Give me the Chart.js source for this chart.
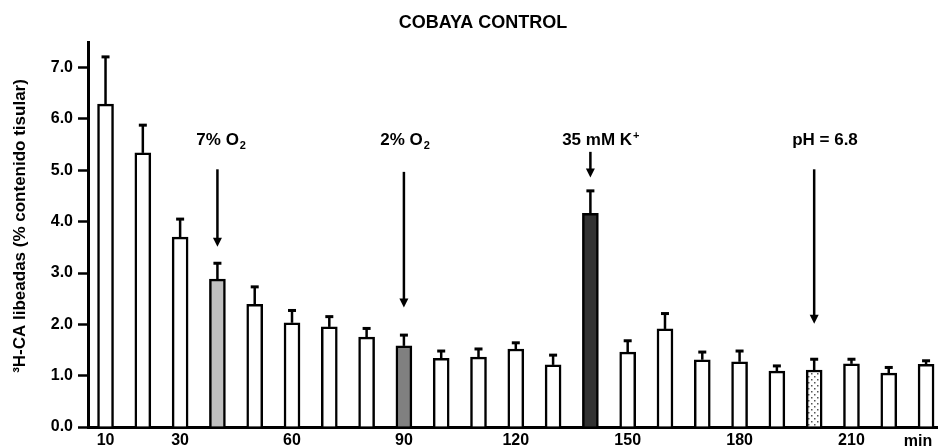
<!DOCTYPE html>
<html><head><meta charset="utf-8">
<script src="https://cdn.jsdelivr.net/npm/chart.js@4"></script>
<style>html,body{margin:0;padding:0;background:#fff;overflow:hidden}#wrap{width:938px;height:447px;position:relative}</style>
</head><body><div id="wrap"><canvas id="c" width="938" height="447"></canvas></div>
<script>
// ---- data ----
const chartTitle = 'COBAYA CONTROL';
const yAxisTitle = '\u00B3H-CA libeadas (% contenido tisular)';
const times  = [10,20,30,40,50,60,70,80,90,100,110,120,130,140,150,160,170,180,190,200,210,220,230];
const values = [6.29,5.34,3.70,2.88,2.39,2.03,1.95,1.75,1.58,1.34,1.36,1.52,1.21,4.16,1.46,1.91,1.31,1.27,1.09,1.11,1.23,1.05,1.22];
const errors = [0.92,0.54,0.35,0.31,0.34,0.24,0.20,0.17,0.21,0.14,0.16,0.12,0.19,0.44,0.22,0.30,0.15,0.21,0.10,0.21,0.09,0.11,0.07];
const yTickValues = [0,1,2,3,4,5,6,7];
const xTickValues = [10,30,60,90,120,150,180,210];
const xUnitLabel = 'min';
// annotations (stimuli)
const annotMain   = ['7% O','2% O','35 mM K','pH = 6.8'];
const annotScript = ['2','2','+',''];
const annotKind   = ['sub','sub','sup',''];
const annotTime   = [40,90,140,200];      // bar the arrow points at
const annotTextTime = [41,90.3,142.8,202.9];
const annotFrom   = [5.02,4.97,5.36,5.02]; // arrow start (y units)
const annotTo     = [3.51,2.33,4.86,2.01]; // arrow tip (y units)
const annotTextLevel = 5.49;
// bar fill styles: 'w' white, 'l' light grey, 'm' mid grey, 'd' dark, 'p' dotted
const barStyle = ['w','w','w','l','w','w','w','w','m','w','w','w','w','d','w','w','w','w','w','p','w','w','w'];

// ---- drawing ----
const FAM = "'Liberation Sans', Arial, Helvetica, sans-serif";
const canvas = document.getElementById('c');
const ctx = canvas.getContext('2d');
function dotPattern(){
  const c=document.createElement('canvas'); c.width=6; c.height=6;
  const g=c.getContext('2d'); g.fillStyle='#fff'; g.fillRect(0,0,6,6);
  g.fillStyle='#555'; g.fillRect(1,1,1.5,1.5); g.fillRect(4,4,1.5,1.5);
  return ctx.createPattern(c,'repeat');
}
const styleMap = {w:'#ffffff', l:'#c0c0c0', m:'#808080', d:'#333333', p:dotPattern()};

function drawArrow(g, x, y1, y2){
  g.save(); g.strokeStyle='#000'; g.fillStyle='#000'; g.lineWidth=2.5;
  g.beginPath(); g.moveTo(x,y1); g.lineTo(x,y2-8); g.stroke();
  g.beginPath(); g.moveTo(x-4.5,y2-9); g.lineTo(x+4.5,y2-9); g.lineTo(x,y2); g.closePath(); g.fill();
  g.restore();
}
function drawScripted(g, cx, y, main, script, kind, size){
  g.save();
  const fMain = 'bold '+size+'px '+FAM, fS = 'bold '+Math.round(size*0.62)+'px '+FAM;
  g.font=fMain; const w1=g.measureText(main).width;
  g.font=fS; const w2=script?g.measureText(script).width+1:0;
  const x0 = cx-(w1+w2)/2;
  g.fillStyle='#000'; g.textBaseline='alphabetic'; g.textAlign='left';
  g.font=fMain; g.fillText(main,x0,y);
  if(script){ g.font=fS; g.fillText(script,x0+w1+1, kind==='sub'? y+4 : y-6); }
  g.restore();
}

const overlay = {
  id:'overlay',
  afterDatasetsDraw(chart){
    const g=chart.ctx, xs=chart.scales.x, ys=chart.scales.y;
    g.save();
    // error bars
    g.strokeStyle='#000'; g.fillStyle='#000'; g.lineWidth=2.5;
    times.forEach((t,i)=>{
      const x=xs.getPixelForValue(t), yb=ys.getPixelForValue(values[i]), ye=ys.getPixelForValue(values[i]+errors[i]);
      g.beginPath(); g.moveTo(x,yb); g.lineTo(x,ye); g.stroke();
      g.fillRect(x-4,ye-1.5,8,3);
    });
    // arrows + labels
    annotMain.forEach((m,i)=>{
      const x=xs.getPixelForValue(annotTime[i]);
      drawArrow(g,x,ys.getPixelForValue(annotFrom[i]),ys.getPixelForValue(annotTo[i]));
      drawScripted(g, xs.getPixelForValue(annotTextTime[i]), ys.getPixelForValue(annotTextLevel), m, annotScript[i], annotKind[i], 17);
    });
    // title
    g.fillStyle='#000'; g.font='bold 18px '+FAM; g.textAlign='center'; g.textBaseline='middle';
    g.fillText(chartTitle, 483, 23);
    // y-axis title
    g.save(); g.translate(20,226); g.rotate(-Math.PI/2);
    g.font='bold 17px '+FAM; g.textAlign='center'; g.textBaseline='middle';
    g.fillText(yAxisTitle,0,0); g.restore();
    // unit label
    g.font='bold 16px '+FAM; g.textAlign='center'; g.textBaseline='alphabetic';
    g.fillText(xUnitLabel, 918, 446);
    g.restore();
  }
};

new Chart(ctx,{
  type:'bar',
  data:{datasets:[{
    data: times.map((t,i)=>({x:t,y:values[i]})),
    backgroundColor: barStyle.map(s=>styleMap[s]),
    borderColor:'#000', borderWidth:2.5, barThickness:16, borderSkipped:'start'
  }]},
  options:{
    responsive:false, animation:false, devicePixelRatio:1,
    layout:{padding:{top:42,right:0,bottom:0,left:0}},
    plugins:{legend:{display:false},tooltip:{enabled:false},title:{display:false}},
    scales:{
      x:{type:'linear', min:5.3, max:233.2, offset:false,
        grid:{display:false, drawTicks:false},
        border:{display:true,color:'#000',width:3},
        ticks:{font:{family:FAM,size:16,weight:'bold'},color:'#000',padding:4,maxRotation:0,autoSkip:false,
          callback:v=>String(v)},
        afterBuildTicks:s=>{ s.ticks = xTickValues.map(v=>({value:v})); },
        afterFit:s=>{ s.height=20; s.paddingLeft=0; s.paddingRight=0; }
      },
      y:{min:0,max:7.5,
        grid:{drawOnChartArea:false,drawTicks:true,tickLength:10,tickColor:'#000',tickWidth:2.5},
        border:{display:true,color:'#000',width:3},
        ticks:{font:{family:FAM,size:16,weight:'bold'},color:'#000',padding:5,callback:v=>Number(v).toFixed(1)},
        afterBuildTicks:s=>{ s.ticks = yTickValues.map(v=>({value:v})); },
        afterFit:s=>{ s.width=88; s.paddingTop=0; s.paddingBottom=0; }
      }
    }
  },
  plugins:[overlay]
});
</script></body></html>
